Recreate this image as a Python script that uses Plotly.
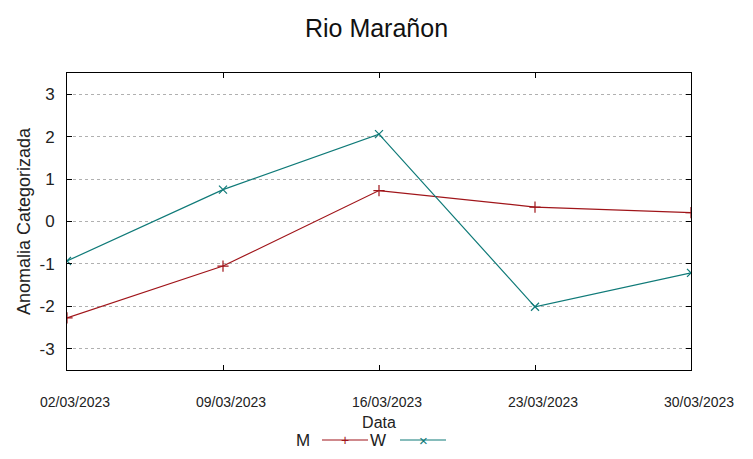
import plotly.graph_objects as go

dates = ["2023-03-02", "2023-03-09", "2023-03-16", "2023-03-23", "2023-03-30"]
tick_labels = ["02/03/2023", "09/03/2023", "16/03/2023", "23/03/2023", "30/03/2023"]
y_ticks = [-3, -2, -1, 0, 1, 2, 3]
y_tick_labels = ["-3", "-2", "-1", "0", "1", "2", "3"]
m_values = [-2.27, -1.05, 0.73, 0.34, 0.21]
w_values = [-0.93, 0.75, 2.06, -2.01, -1.21]
series_names = ["M", "W"]
colors = ["#a0151a", "#0f7a78"]

L, R, T, B = 67, 62, 73, 89
W_, H_ = 753, 459
PW, PH = W_ - L - R, H_ - T - B

fig = go.Figure()
for name, vals, col, sym in [(series_names[0], m_values, colors[0], "cross-thin"),
                              (series_names[1], w_values, colors[1], "x-thin")]:
    fig.add_trace(go.Scatter(x=dates, y=vals, mode="lines+markers", name=name,
                             line=dict(color=col, width=1.2),
                             marker=dict(symbol=sym, size=8, line=dict(color=col, width=1.2)),
                             showlegend=False))

def px2paper_x(px):
    return (px - L) / PW

def px2paper_y(py):
    return (H_ - B - py) / PH

# manual gnuplot-style legend (label left of sample)
leg_y = px2paper_y(440)
leg_items = [(series_names[0], colors[0], 303, 322, 368, "cross-thin"),
             (series_names[1], colors[1], 378, 400, 446, "x-thin")]
for name, col, tx, x0, x1, sym in leg_items:
    fig.add_annotation(x=px2paper_x(tx), y=leg_y, xref="paper", yref="paper",
                       text=name, showarrow=False, xanchor="center", yanchor="middle",
                       font=dict(size=17, color="#222"))
    fig.add_shape(type="line", xref="paper", yref="paper",
                  x0=px2paper_x(x0), x1=px2paper_x(x1), y0=leg_y, y1=leg_y,
                  line=dict(color=col, width=1.2))
    fig.add_annotation(x=px2paper_x((x0 + x1) / 2), y=leg_y, xref="paper", yref="paper",
                       text="+" if sym == "cross-thin" else "×", showarrow=False,
                       xanchor="center", yanchor="middle",
                       font=dict(size=14 if sym == "cross-thin" else 15, color=col))

fig.update_layout(
    width=W_, height=H_,
    margin=dict(l=L, r=R, t=T, b=B),
    paper_bgcolor="white", plot_bgcolor="white",
    font=dict(family="Liberation Sans, Arial, sans-serif", color="#222"),
    title=dict(text="Rio Marañon", x=0.5, xanchor="center", y=1 - 28 / H_, yanchor="middle",
               font=dict(size=25, color="#111")),
    xaxis=dict(type="date", range=[dates[0], dates[-1]], tickvals=dates, ticktext=tick_labels,
               showgrid=False, zeroline=False, showline=True, linecolor="black", linewidth=1,
               mirror="ticks", ticks="inside", ticklen=5, tickcolor="black",
               tickfont=dict(size=14, color="#222"), ticklabelstandoff=19, ticklabelshift=8,
               title=dict(text="Data", font=dict(size=16, color="#222"), standoff=8)),
    yaxis=dict(range=[-3.5, 3.5], tickvals=y_ticks, ticktext=y_tick_labels,
               showgrid=True, gridcolor="#b0b0b0", griddash="dot", gridwidth=1,
               zeroline=False, showline=True, linecolor="black", linewidth=1,
               mirror="ticks", ticks="inside", ticklen=5, tickcolor="black",
               tickfont=dict(size=17, color="#222"), ticklabelstandoff=8,
               title=dict(text="Anomalia Categorizada", font=dict(size=18, color="#222"), standoff=4)),
)

fig.write_html("out.html", config={"displayModeBar": False},
               post_script="document.body.style.margin='0';")
